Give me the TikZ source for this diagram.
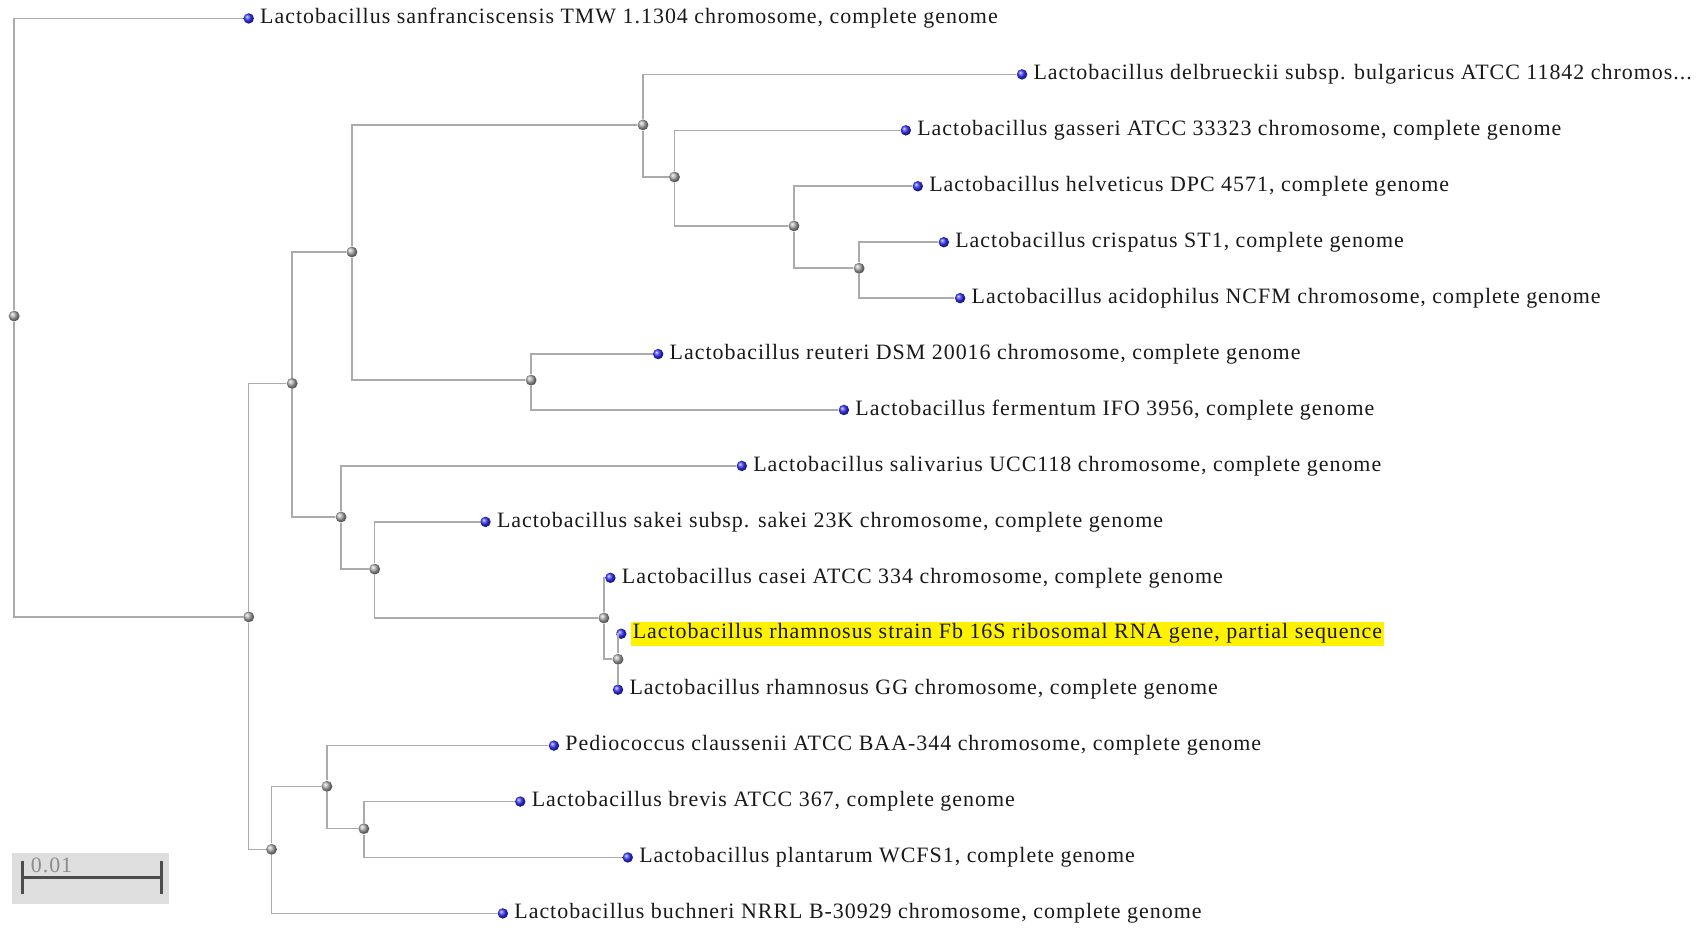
\documentclass[tikz,border=0pt]{standalone}
\usepackage{fontspec}
\setmainfont{Liberation Serif}[LetterSpace=4.5]
\begin{document}
\begin{tikzpicture}[x=0.5pt,y=-0.5pt,
  branche/.style={draw=black!33,line width=0.7pt},
  interne/.style={circle,inner sep=0pt,minimum size=5pt,ball color=black!32},
  feuille/.style={circle,inner sep=0pt,minimum size=4.8pt,ball color=blue!80!white},
  nom/.style={inner sep=1pt,font=\fontsize{10.1}{11}\selectfont,text=black!90}]
  \pgfmathsetmacro{\haut}{17}
  \pgfmathsetmacro{\pas}{51.5}
  \useasboundingbox (0,0) rectangle (1568,854);
  \foreach \nm/\x/\i/\texte in {sanfr/229/0/{Lactobacillus sanfranciscensis TMW 1.1304 chromosome, complete genome},
      delbr/941/1/{Lactobacillus delbrueckii subsp. bulgaricus ATCC 11842 chromos...},
      gass/834/2/{Lactobacillus gasseri ATCC 33323 chromosome, complete genome},
      helv/845/3/{Lactobacillus helveticus DPC 4571, complete genome},
      crisp/869/4/{Lactobacillus crispatus ST1, complete genome},
      acid/884/5/{Lactobacillus acidophilus NCFM chromosome, complete genome},
      reut/606/6/{Lactobacillus reuteri DSM 20016 chromosome, complete genome},
      ferm/777/7/{Lactobacillus fermentum IFO 3956, complete genome},
      saliv/683/8/{Lactobacillus salivarius UCC118 chromosome, complete genome},
      sakei/447/9/{Lactobacillus sakei subsp. sakei 23K chromosome, complete genome},
      casei/562/10/{Lactobacillus casei ATCC 334 chromosome, complete genome},
      rhamgg/569/12/{Lactobacillus rhamnosus GG chromosome, complete genome},
      pedio/510/13/{Pediococcus claussenii ATCC BAA-344 chromosome, complete genome},
      brev/479/14/{Lactobacillus brevis ATCC 367, complete genome},
      plant/578/15/{Lactobacillus plantarum WCFS1, complete genome},
      buchn/463/16/{Lactobacillus buchneri NRRL B-30929 chromosome, complete genome}}
    \node[feuille,label={[nom,label distance=1.5pt]right:\texte}] (\nm) at (\x,{\haut+\i*\pas}) {};
  \node[feuille,label={[nom,fill=yellow,label distance=1.5pt]right:Lactobacillus rhamnosus strain Fb 16S ribosomal RNA gene, partial sequence}] (rhamfb) at (572,{\haut+11*\pas}) {};
  \node[interne] (R) at (13,291) {};
  \node[interne] (A) at (229,568) {};
  \node[interne] (B) at (269,353) {};
  \node[interne] (C) at (324,232) {};
  \node[interne] (D) at (592,115) {};
  \node[interne] (E) at (621,163) {};
  \node[interne] (F) at (731,208) {};
  \node[interne] (G) at (791,247) {};
  \node[interne] (H) at (489,350) {};
  \node[interne] (I) at (314,476) {};
  \node[interne] (J) at (345,524) {};
  \node[interne] (K) at (556,569) {};
  \node[interne] (L) at (569,607) {};
  \node[interne] (M) at (250,782) {};
  \node[interne] (N) at (301,724) {};
  \node[interne] (O) at (335,763) {};
  \foreach \p/\c in {R/sanfr,R/A,A/B,A/M,B/C,B/I,C/D,C/H,D/delbr,D/E,E/gass,E/F,
      F/helv,F/G,G/crisp,G/acid,H/reut,H/ferm,I/saliv,I/J,J/sakei,J/K,K/casei,K/L,
      L/rhamfb,M/N,M/buchn,N/pedio,N/O,O/brev,O/plant}
    \draw[branche] (\p) |- (\c);
  \draw[branche] (L) -- (rhamgg);
  \fill[black!13] (11,785) rectangle (156,832);
  \draw[black!70,line width=1.3pt] (21,793) -- (21,823) (21,808) -- (149,808) (149,793) -- (149,823);
  \node[nom,text=black!45,anchor=south west] (barre) at (26,806) {0.01};
\end{tikzpicture}
\end{document}
